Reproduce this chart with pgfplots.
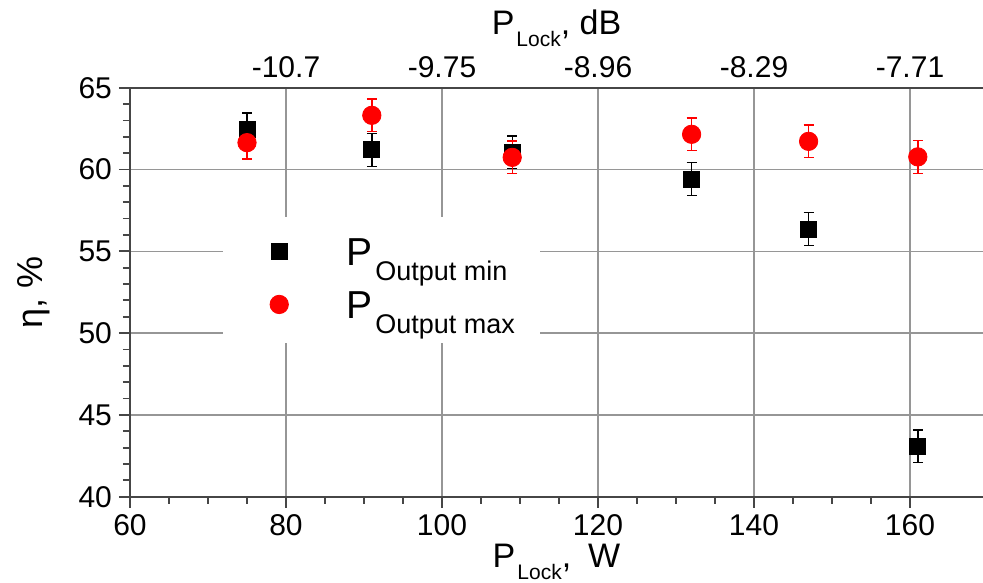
\documentclass[border=0pt]{standalone}
\usepackage{pgfplots}
\pgfplotsset{compat=1.18}
\usepackage{fontspec}
\setmainfont{Liberation Sans}

\definecolor{gridgray}{RGB}{150,150,150}
\definecolor{axisgray}{RGB}{70,70,70}

\newcommand{\ticksize}{\fontsize{15}{17}\selectfont}
\newcommand{\labsize}{\fontsize{17}{19}\selectfont}
\newcommand{\locksub}{\hspace{1pt}\raisebox{-5.8pt}{\fontsize{10.5}{11}\selectfont Lock}}

\begin{document}
\begin{tikzpicture}
% efficiency versus locking power, bottom/left scales
\begin{axis}[
  scale only axis,
  width=426.5pt, height=204.5pt,
  xmin=60, xmax=169.36, ymin=40, ymax=65,
  axis x line*=bottom, axis y line*=left,
  axis line style={axisgray, line width=1pt},
  xtick={60,80,...,160}, ytick={40,45,...,65},
  minor x tick num=3, minor y tick num=4,
  tick align=outside,
  major tick length=5.5pt, minor tick length=3.5pt,
  tick style={axisgray, line width=0.9pt},
  grid=major,
  major grid style={gridgray, line width=0.7pt},
  tick label style={font=\ticksize},
  /pgf/number format/assume math mode=true,
  xlabel={P\locksub,\hspace{0.5em}W},
  xlabel style={font=\labsize, at={(rel axis cs:0.5,-0.1743)}, anchor=base},
  ylabel={η, \%},
  ylabel style={font=\fontsize{18}{20}\selectfont, at={(rel axis cs:-0.1125,0.5)}, anchor=center},
  legend image code/.code={\draw[#1] plot coordinates {(0pt,7pt)};},
  legend style={draw=none, fill=none, inner sep=0pt,
    at={(axis cs:77.9,55.87)}, anchor=north west,
    column sep=29pt, row sep=2.5pt,
    nodes={anchor=base west, inner sep=0pt, text height=14pt, text depth=10pt}},
]
\coordinate (bbSW) at (rel axis cs:-0.1524,-0.2110);
\coordinate (bbNE) at (rel axis cs:1,1.2144);

% white patch behind the legend
\fill[white] (axis cs:71.9,57.1) rectangle (axis cs:112.6,49.4);

\addplot+[only marks, mark=square*, mark size=4pt, black,
  mark options={fill=black, draw=black},
  error bars/.cd, y dir=both, y explicit,
  error bar style={black, line width=0.7pt},
  error mark options={rotate=90, mark size=2.5pt, line width=0.7pt, black}]
  coordinates {
  (75,62.46) +- (0,1)
  (91,61.2) +- (0,1)
  (109,61.05) +- (0,1)
  (132,59.42) +- (0,1)
  (147,56.36) +- (0,1)
  (161,43.08) +- (0,1)
};
\addlegendentry{{\fontsize{19.5}{20}\selectfont P}\hspace{1.5pt}\raisebox{-7.5pt}{\fontsize{13.5}{14}\selectfont Output min}}

\addplot+[only marks, mark=*, mark size=4.6pt, red,
  mark options={fill=red, draw=red},
  error bars/.cd, y dir=both, y explicit,
  error bar style={red, line width=0.7pt},
  error mark options={rotate=90, mark size=2.5pt, line width=0.7pt, red}]
  coordinates {
  (75,61.64) +- (0,1)
  (91,63.31) +- (0,1)
  (109,60.74) +- (0,1)
  (132,62.15) +- (0,1)
  (147,61.72) +- (0,1)
  (161,60.77) +- (0,1)
};
\addlegendentry{{\fontsize{19.5}{20}\selectfont P}\hspace{1.5pt}\raisebox{-7.5pt}{\fontsize{13.5}{14}\selectfont Output max}}
\end{axis}

% locking power in dB, top scale
\begin{axis}[
  scale only axis,
  width=426.5pt, height=204.5pt,
  xmin=60, xmax=169.36, ymin=40, ymax=65,
  axis x line*=top, axis y line=none,
  axis line style={axisgray, line width=1pt},
  xtick={80,100,...,160},
  xticklabels={-10.7,-9.75,-8.96,-8.29,-7.71},
  major tick length=0pt, minor tick length=0pt,
  tick label style={font=\ticksize},
  xticklabel style={yshift=1.5pt},
  xlabel={P\locksub, dB},
  xlabel style={font=\labsize, at={(rel axis cs:0.5,1.1289)}, anchor=base},
]
\end{axis}

\pgfresetboundingbox
\useasboundingbox (bbSW) rectangle (bbNE);
\end{tikzpicture}
\end{document}
